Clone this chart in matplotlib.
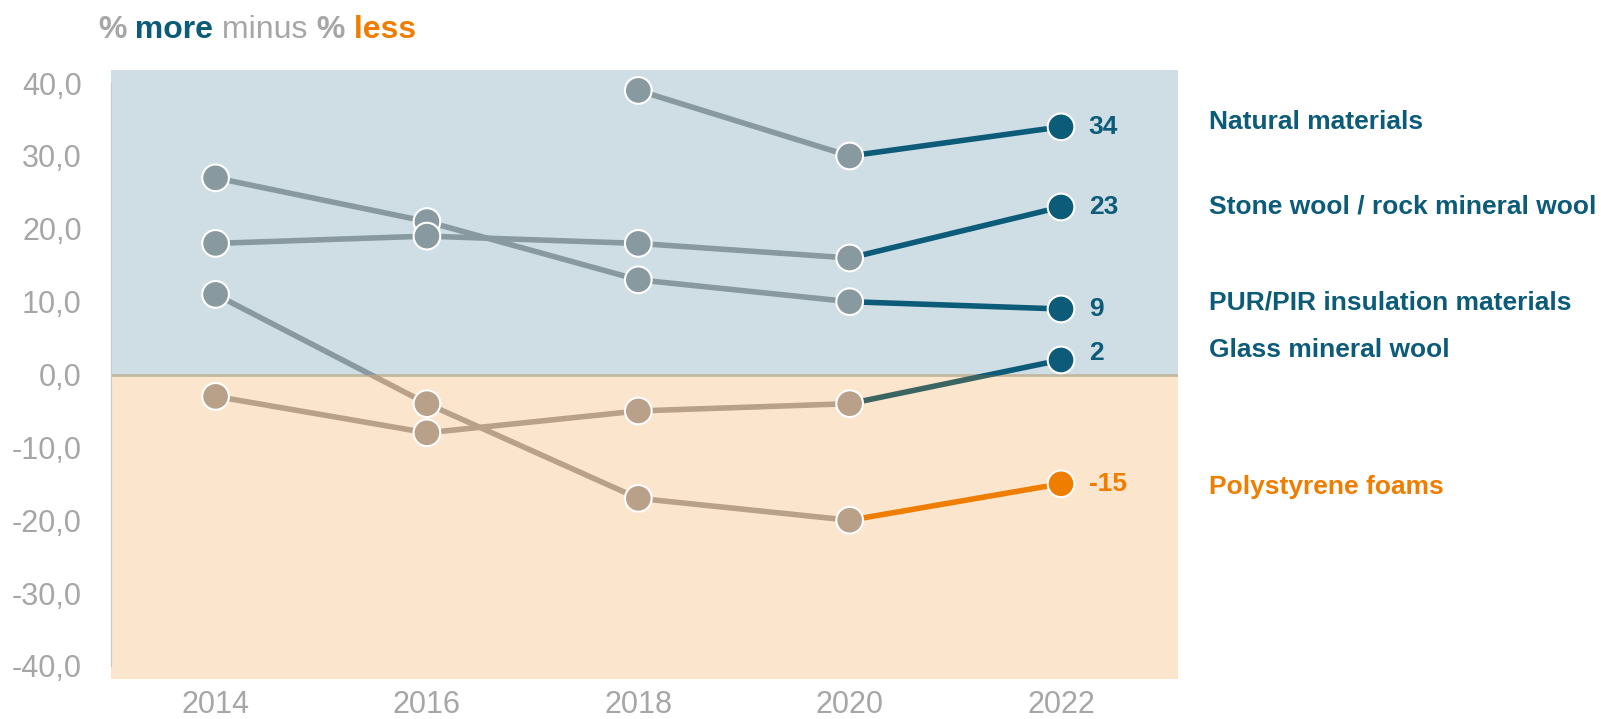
import numpy as np
import matplotlib.pyplot as plt
from matplotlib.patches import Rectangle

# data
years = [2014, 2016, 2018, 2020, 2022]
natural = [np.nan, np.nan, 39, 30, 34]
stone = [18, 19, 18, 16, 23]
pur = [27, 21, 13, 10, 9]
glass = [-3, -8, -5, -4, 2]
poly = [11, -4, -17, -20, -15]
names = ['Natural materials', 'Stone wool / rock mineral wool',
         'PUR/PIR insulation materials', 'Glass mineral wool', 'Polystyrene foams']
yticks = [-40, -30, -20, -10, 0, 10, 20, 30, 40]

# colours
teal = '#0c5b78'
teal_low = '#3a6562'
orange = '#ef7d00'
gray_up = '#8899a0'
gray_low = '#b8a089'
bg_up = '#cfdee5'
bg_low = '#fce5cd'
txt_gray = '#a6a6a6'

series = [pur, stone, natural, poly, glass]
end_up = [teal, teal, teal, orange, teal]
end_low = [teal, teal, teal, orange, teal_low]
lab_names = [names[2], names[1], names[0], names[4], names[3]]
lab_y = [9.9, 23.0, 34.7, -15.4, 3.4]
val_dy = [0, 0, 0, 0, 5]

plt.rcParams['font.family'] = ['Liberation Sans', 'DejaVu Sans']
fig = plt.figure(figsize=(16.01, 7.19), dpi=100)
ax = fig.add_axes([0.0693, 0.0556, 0.6665, 0.847])
x0, x1, y0, y1 = 2013.01, 2023.107, -41.8, 41.8
ax.set_xlim(x0, x1)
ax.set_ylim(y0, y1)
ax.axhspan(0, y1, color=bg_up, lw=0, zorder=0)
ax.axhspan(y0, 0, color=bg_low, lw=0, zorder=0)
ax.axhline(0, color='#c2b8a0', lw=2, zorder=1)

up_clip = Rectangle((x0, 0), x1 - x0, y1, transform=ax.transData)
low_clip = Rectangle((x0, y0), x1 - x0, -y0, transform=ax.transData)

for i, s in enumerate(series):
    s = np.array(s, dtype=float)
    for col, clip in [(gray_up, up_clip), (gray_low, low_clip)]:
        ln, = ax.plot(years[:4], s[:4], color=col, lw=4, zorder=2,
                      solid_capstyle='butt')
        ln.set_clip_path(clip)
    for col, clip in [(end_up[i], up_clip), (end_low[i], low_clip)]:
        ln, = ax.plot(years[3:], s[3:], color=col, lw=4, zorder=2,
                      solid_capstyle='butt')
        ln.set_clip_path(clip)
    cols = []
    for j, v in enumerate(s):
        if j == 4:
            cols.append(end_up[i])
        else:
            cols.append(gray_up if v >= 0 else gray_low)
    ax.scatter(years, s, s=370, c=cols, edgecolors='white', linewidths=1.5,
               zorder=3)
    ax.annotate('%d' % s[4], (years[4], s[4]), xytext=(20, val_dy[i]),
                textcoords='offset points', va='center', ha='left',
                fontsize=19, fontweight='bold', color=end_up[i])
    ax.text(2023.4, lab_y[i], lab_names[i], va='center', ha='left',
            fontsize=19, fontweight='bold', color=end_up[i], clip_on=False)

ax.set_yticks(yticks)
ax.set_yticklabels([('%.1f' % t).replace('.', ',') for t in yticks])
ax.set_xticks(years)
ax.tick_params(length=0, labelsize=22, labelcolor=txt_gray)
ax.tick_params(axis='y', pad=21)
ax.tick_params(axis='x', pad=8)
for sp in ['top', 'right', 'bottom']:
    ax.spines[sp].set_visible(False)
ax.spines['left'].set_bounds(-40, 40)
ax.spines['left'].set_color('#c8c8c8')
ax.spines['left'].set_position(('data', x0))
ax.spines['left'].set_zorder(5)

# title made of coloured pieces
t = fig.text(0.0612, 0.947, '%', fontsize=23, fontweight='bold', color=txt_gray,
             va='baseline')
parts = [(' more', 'bold', teal), (' minus', 'normal', txt_gray),
         (' %', 'bold', txt_gray), (' less', 'bold', orange)]
for s, w, c in parts:
    t = fig.text(0, 0, s, fontsize=23, fontweight=w, color=c, va='baseline')
    fig.canvas.draw()
    bb = fig.texts[-2].get_window_extent()
    t.set_position((bb.x1 / fig.bbox.width, 0.947))

fig.savefig('out.png', dpi=100)
